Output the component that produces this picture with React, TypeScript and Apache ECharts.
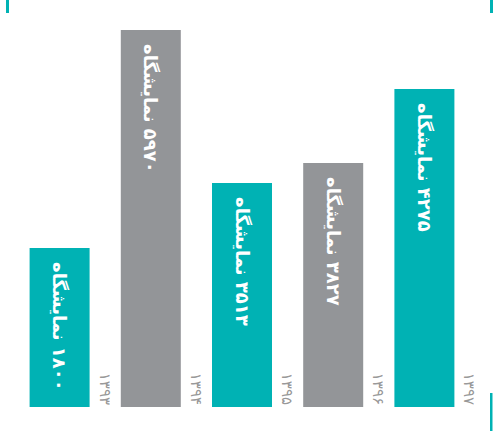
import React, { useEffect, useRef } from "react";
import * as echarts from "echarts";

const years = ["۱۳۹۳", "۱۳۹۴", "۱۳۹۵", "۱۳۹۶", "۱۳۹۷"];
const exhibitionCounts = ["۱۸۰۰", "۵۹۷۰", "۳۵۱۳", "۳۸۲۷", "۴۲۷۵"];
const barHeights = [159, 377, 224, 244, 318];
const unitWord = "نمایشگاه";
const TEAL = "#00b2b4";
const GRAY = "#939598";
const barColors = [TEAL, GRAY, TEAL, GRAY, TEAL];

export default function App() {
  const ref = useRef<HTMLDivElement>(null);
  useEffect(() => {
    document.body.style.margin = "0";
    if (!ref.current) return;
    const chart = echarts.init(ref.current, null, { renderer: "svg" });
    chart.setOption({
      animation: false,
      backgroundColor: "#ffffff",
      grid: { left: 14, right: 23, top: 7, bottom: 24 },
      xAxis: { type: "category", data: years, show: false },
      yAxis: { type: "value", min: 0, max: 400, show: false },
      series: [
        {
          type: "bar",
          barWidth: 60,
          data: barHeights.map((v, i) => ({ value: v, itemStyle: { color: barColors[i] } })),
          label: {
            show: true,
            position: "insideTop",
            distance: 14,
            rotate: -90,
            align: "left",
            verticalAlign: "middle",
            color: "#ffffff",
            fontSize: 18,
            fontWeight: "bold",
            fontFamily: "DejaVu Sans",
            formatter: (p: any) => "\u200F" + exhibitionCounts[p.dataIndex] + " " + unitWord,
          },
        },
        {
          type: "scatter",
          symbolSize: 1,
          silent: true,
          itemStyle: { color: "rgba(0,0,0,0)" },
          data: years.map((_, i) => [i, 0]),
          label: {
            show: true,
            position: "inside",
            offset: [-2, -45],
            rotate: -90,
            align: "right",
            verticalAlign: "middle",
            color: "#7d7d7d",
            fontSize: 15,
            fontFamily: "DejaVu Sans",
            formatter: (p: any) => years[p.dataIndex],
          },
        },
      ],
      graphic: [
        { type: "rect", shape: { x: 6, y: 0, width: 3, height: 13 }, style: { fill: TEAL } },
        { type: "rect", shape: { x: 490, y: 0, width: 3, height: 13 }, style: { fill: TEAL } },
        { type: "rect", shape: { x: 490, y: 393, width: 2.5, height: 38 }, style: { fill: TEAL } },
      ],
    });
    return () => chart.dispose();
  }, []);
  return <div ref={ref} style={{ width: 493, height: 431 }} />;
}
